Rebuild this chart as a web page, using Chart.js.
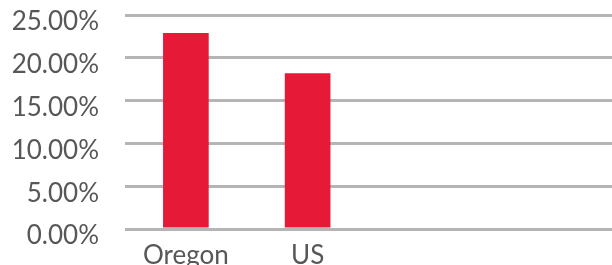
<!DOCTYPE html>
<html>
<head>
<meta charset="utf-8">
<script src="https://cdn.jsdelivr.net/npm/chart.js@4"></script>
<style>
html,body{margin:0;padding:0;background:#fff;overflow:hidden;}
#wrap{width:612px;height:265px;position:relative;}
</style>
</head>
<body>
<div id="wrap"><canvas id="c" width="612" height="265"></canvas></div>
<script>
const categories = ['Oregon', 'US', '', ''];
const values = [22.9, 18.2, null, null];
const yTicks = [0, 5, 10, 15, 20, 25];

const FONT = 'Lato';
const TEXT = '#575757';

new Chart(document.getElementById('c'), {
  type: 'bar',
  data: {
    labels: categories,
    datasets: [{
      data: values,
      backgroundColor: '#E61937',
      borderWidth: 0,
      categoryPercentage: 1,
      barPercentage: 0.375
    }]
  },
  options: {
    responsive: false,
    animation: false,
    events: [],
    layout: { padding: 0 },
    plugins: { legend: { display: false }, tooltip: { enabled: false } },
    scales: {
      x: {
        grid: { display: false, drawTicks: false },
        border: { display: false },
        ticks: { color: TEXT, font: { family: FONT, size: 26 }, padding: 11, maxRotation: 0, autoSkip: false },
        afterFit: (s) => { s.height = 36; s.paddingLeft = 0; s.paddingRight = 0; }
      },
      y: {
        min: 0, max: 25,
        afterBuildTicks: (s) => { s.ticks = yTicks.map(v => ({ value: v })); },
        grid: { color: '#b5b5b5', lineWidth: 3, drawTicks: false },
        border: { display: false },
        ticks: {
          color: TEXT, font: { family: FONT, size: 26 }, padding: 26, labelOffset: 7,
          callback: (v) => v.toFixed(2) + '%'
        },
        afterFit: (s) => { s.width = 125; s.paddingTop = 15; s.paddingBottom = 0; }
      }
    }
  }
});
</script>
</body>
</html>
